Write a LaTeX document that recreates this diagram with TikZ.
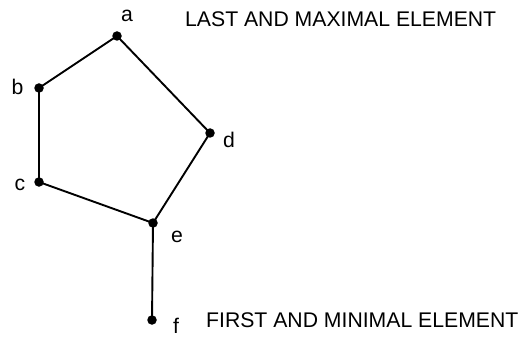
\documentclass[tikz,border=0pt]{standalone}
\usepackage{fontspec}
\setmainfont{Liberation Sans}
\usetikzlibrary{positioning}

\tikzset{
  elem/.style={circle, fill=black, inner sep=0pt, minimum size=9.5pt},
  elemname/.style={anchor=base, inner sep=0pt, font=\fontsize{21.2}{25}\selectfont},
  remark/.style={anchor=base west, inner sep=0pt, font=\fontsize{21.2}{25}\selectfont}
}

\begin{document}
\begin{tikzpicture}[x=1pt, y=-1pt]
  % Fix the page size
  \useasboundingbox (0,0) rectangle (521,339);

  % Place the elements of the order
  \node[elem] (a) at (117,36) {};
  \node[elem] (b) at (39,88) {};
  \node[elem] (c) at (39,182) {};
  \node[elem] (d) at (210,133) {};
  \node[elem] (e) at (153,223) {};
  \node[elem] (f) at (152,320) {};

  % Draw the covering relation
  \draw[line width=1.9pt] (a.center) -- (b.center) -- (c.center) -- (e.center) -- (d.center) -- (a.center);
  \draw[line width=1.9pt] (e.center) -- (f.center);

  % Name the elements
  \node[elemname] (la) at (127,22) {a};
  \node[elemname] (lb) at (17.5,95) {b};
  \node[elemname] (lc) at (20,190) {c};
  \node[elemname] (ld) at (229,147) {d};
  \node[elemname] (le) at (177,242) {e};
  \node[elemname] (lf) at (176,333) {f};

  \node[remark] (last) at (185,27) {LAST AND MAXIMAL ELEMENT};
  \node[remark] (first) at (206,327) {FIRST AND MINIMAL ELEMENT};
\end{tikzpicture}
\end{document}
